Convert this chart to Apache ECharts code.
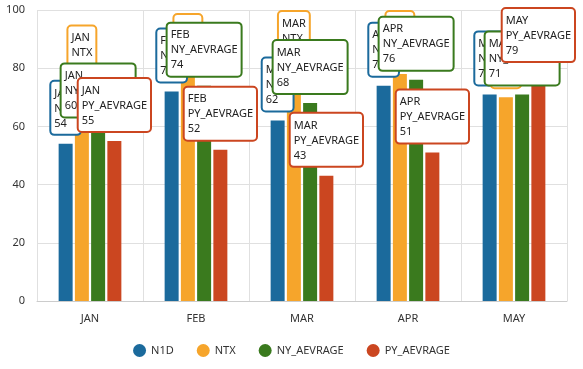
<!DOCTYPE html>
<html><head><meta charset="utf-8">
<script src="https://cdn.jsdelivr.net/npm/echarts@6/dist/echarts.min.js"></script>
<style>html,body{margin:0;padding:0;background:#fff}#c{width:583px;height:369px}</style>
</head><body><div id="c"></div>
<script>
const categories = ['JAN', 'FEB', 'MAR', 'APR', 'MAY'];
const seriesNames = ['N1D', 'NTX', 'NY_AEVRAGE', 'PY_AEVRAGE'];
const n1d = [54, 72, 62, 74, 71];
const ntx = [73, 77, 78, 78, 70];
const nyAvg = [60, 74, 68, 76, 71];
const pyAvg = [55, 52, 43, 51, 79];
const yTicks = [0, 20, 40, 60, 80, 100];

const colors = ['#1b6a9c', '#f6a52b', '#3a7a1e', '#cb4620'];
const values = [n1d, ntx, nyAvg, pyAvg];
const font = 'Noto Sans';

const chart = echarts.init(document.getElementById('c'));
chart.setOption({
  animation: false,
  textStyle: { fontFamily: font },
  grid: { left: 37, right: 16, top: 10, bottom: 68 },
  legend: {
    bottom: 7, itemGap: 23, icon: 'circle', itemWidth: 13, itemHeight: 13,
    textStyle: { fontFamily: font, fontSize: 11, color: '#333' },
    data: seriesNames
  },
  xAxis: {
    type: 'category', data: categories,
    axisLine: { lineStyle: { color: '#ccc' } },
    axisTick: { show: false },
    splitLine: { show: true, lineStyle: { color: '#e0e0e0' } },
    axisLabel: { color: '#333', fontSize: 11, margin: 12 }
  },
  yAxis: {
    type: 'value', min: yTicks[0], max: yTicks[yTicks.length - 1], interval: 20,
    axisLine: { show: false }, axisTick: { show: false },
    splitLine: { lineStyle: { color: '#e0e0e0' } },
    axisLabel: { color: '#333', fontSize: 11, margin: 12 }
  },
  series: seriesNames.map((name, i) => ({
    name, type: 'bar', data: values[i], barWidth: 14, barGap: '16%',
    itemStyle: { color: colors[i] },
    label: {
      show: true, position: 'top', distance: 10,
      formatter: '{t|{b}}\n{t|{a}}\n{t|{c}}',
      backgroundColor: '#fff', borderColor: colors[i], borderWidth: 2, borderRadius: 3,
      padding: [4, 3, 3, 3],
      rich: { t: { align: 'left', fontFamily: font, fontSize: 11, lineHeight: 15, color: '#222' } }
    }
  }))
});
</script></body></html>
